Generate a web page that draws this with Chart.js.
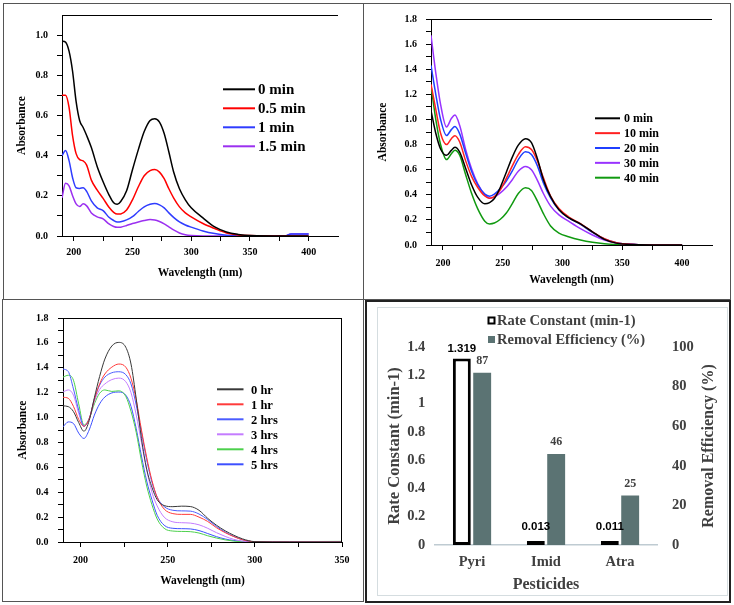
<!DOCTYPE html>
<html>
<head>
<meta charset="utf-8">
<script src="https://cdn.jsdelivr.net/npm/chart.js@4.4.1/dist/chart.umd.min.js"></script>
<style>
  html, body { margin: 0; padding: 0; background: #fff; }
  #page { position: relative; width: 734px; height: 605px; overflow: hidden; background: #fff; }
  .panel { position: absolute; }
  .box { position: absolute; box-sizing: border-box; pointer-events: none; }
</style>
</head>
<body>
<div id="page">
  <div class="panel" style="left:0;top:0;width:363px;height:297px"><canvas id="spA"></canvas></div>
  <div class="panel" style="left:365px;top:0;width:366px;height:297px"><canvas id="spB"></canvas></div>
  <div class="panel" style="left:0;top:300px;width:363px;height:301px"><canvas id="spC"></canvas></div>
  <div class="panel" style="left:377px;top:307px;width:351px;height:289px"><canvas id="rates"></canvas></div>

  <div class="box" style="left:3px;top:3px;width:361px;height:297px;border:1.5px solid #555"></div>
  <div class="box" style="left:363px;top:3px;width:368px;height:297px;border:1.5px solid #555"></div>
  <div class="box" style="left:2px;top:299px;width:362px;height:303px;border:1.5px solid #555"></div>
  <div class="box" style="left:365px;top:300px;width:366px;height:303px;border:2px solid #222"></div>
  <div class="box" style="left:377px;top:307px;width:351px;height:289px;border:1px solid #d5dde0"></div>
</div>

<script>
// ---- panel A : 0 - 1.5 min ----
const wlA = [190, 193, 196, 199, 202, 205, 208, 211, 215, 220, 225, 230, 234, 237, 240, 245, 250, 255, 260, 265,
             269, 273, 277, 281, 285, 290, 295, 300, 310, 320, 330, 340, 350, 380, 385, 400];
const a0min  = [0.97, 0.965, 0.92, 0.82, 0.67, 0.575, 0.54, 0.50, 0.44, 0.345, 0.27, 0.205, 0.165, 0.158, 0.172, 0.225, 0.33, 0.43, 0.52, 0.575,
                0.584, 0.567, 0.51, 0.418, 0.32, 0.235, 0.18, 0.14, 0.09, 0.045, 0.02, 0.008, 0.002, 0, 0, 0];
const a05min = [0.70, 0.70, 0.64, 0.50, 0.41, 0.38, 0.374, 0.353, 0.278, 0.228, 0.187, 0.143, 0.118, 0.109, 0.11, 0.129, 0.18, 0.245, 0.30, 0.325,
                0.331, 0.318, 0.285, 0.235, 0.19, 0.145, 0.115, 0.095, 0.062, 0.037, 0.015, 0.005, 0.002, 0, 0, 0];
const a1min  = [0.40, 0.425, 0.375, 0.29, 0.24, 0.237, 0.24, 0.222, 0.175, 0.14, 0.126, 0.093, 0.077, 0.07, 0.071, 0.08, 0.096, 0.122, 0.145, 0.158,
                0.162, 0.155, 0.14, 0.115, 0.093, 0.07, 0.055, 0.044, 0.025, 0.012, 0.004, 0.001, 0, 0, 0.01, 0.01];
const a15min = [0.19, 0.262, 0.25, 0.20, 0.16, 0.147, 0.16, 0.15, 0.115, 0.095, 0.085, 0.06, 0.047, 0.043, 0.044, 0.052, 0.062, 0.07, 0.077, 0.082,
                0.08, 0.072, 0.06, 0.045, 0.03, 0.015, 0.006, 0.002, 0, 0, 0, 0, 0, 0, 0.01, 0.01];
const namesA = ['0 min', '0.5 min', '1 min', '1.5 min'];

// ---- panel B : 0 - 40 min ----
const wlB = [190, 194, 198, 203, 207, 210, 214, 219, 224, 229, 235, 239, 243, 248, 253, 258, 263, 269, 274, 279,
             284, 290, 297, 305, 315, 325, 335, 345, 360, 375, 400];
const b0min  = [1.07, 0.89, 0.765, 0.714, 0.754, 0.778, 0.74, 0.61, 0.478, 0.381, 0.328, 0.338, 0.37, 0.46, 0.58, 0.70, 0.795, 0.847, 0.815, 0.687,
                0.52, 0.385, 0.28, 0.218, 0.168, 0.105, 0.045, 0.015, 0.003, 0, 0];
const b10min = [1.28, 1.08, 0.89, 0.80, 0.847, 0.87, 0.82, 0.67, 0.545, 0.46, 0.39, 0.373, 0.385, 0.44, 0.53, 0.63, 0.72, 0.783, 0.76, 0.67,
                0.535, 0.39, 0.29, 0.225, 0.17, 0.105, 0.05, 0.018, 0.004, 0, 0];
const b20min = [1.43, 1.20, 1.00, 0.872, 0.919, 0.943, 0.885, 0.73, 0.585, 0.48, 0.405, 0.389, 0.405, 0.45, 0.51, 0.59, 0.68, 0.742, 0.72, 0.63,
                0.495, 0.375, 0.28, 0.218, 0.165, 0.1, 0.048, 0.018, 0.004, 0, 0];
const b30min = [1.67, 1.37, 1.12, 0.94, 1.007, 1.035, 0.952, 0.76, 0.605, 0.49, 0.40, 0.373, 0.383, 0.415, 0.46, 0.52, 0.588, 0.626, 0.60, 0.515,
                0.41, 0.31, 0.24, 0.19, 0.13, 0.08, 0.04, 0.016, 0.004, 0, 0];
const b40min = [1.27, 1.00, 0.80, 0.68, 0.727, 0.755, 0.715, 0.56, 0.41, 0.29, 0.19, 0.168, 0.175, 0.205, 0.255, 0.33, 0.41, 0.456, 0.435, 0.35,
                0.25, 0.152, 0.095, 0.066, 0.04, 0.022, 0.01, 0.004, 0, 0, 0];
const namesB = ['0 min', '10 min', '20 min', '30 min', '40 min'];

// ---- panel C : 0 - 5 hrs ----
const wlC = [190, 193, 196, 199, 202, 205, 208, 211, 214, 218, 222, 226, 229, 232, 235, 238, 241, 244, 248, 253,
             258, 263, 268, 273, 278, 283, 288, 293, 300, 320, 350];
const c0hr = [1.094, 1.088, 1.048, 0.96, 0.89, 0.975, 1.16, 1.33, 1.47, 1.575, 1.604, 1.565, 1.43, 1.15, 0.83, 0.585, 0.44, 0.34, 0.293, 0.284,
              0.288, 0.285, 0.255, 0.19, 0.135, 0.09, 0.054, 0.025, 0.003, 0, 0];
const c1hr = [1.163, 1.155, 1.09, 0.985, 0.93, 0.99, 1.145, 1.27, 1.35, 1.405, 1.43, 1.405, 1.315, 1.14, 0.9, 0.68, 0.495, 0.36, 0.265, 0.228,
              0.222, 0.222, 0.2, 0.165, 0.115, 0.075, 0.043, 0.018, 0.002, 0, 0];
const c2hr = [1.39, 1.37, 1.23, 1.06, 0.93, 0.99, 1.15, 1.26, 1.325, 1.36, 1.368, 1.345, 1.27, 1.1, 0.88, 0.66, 0.48, 0.36, 0.285, 0.255,
              0.25, 0.248, 0.225, 0.18, 0.125, 0.08, 0.045, 0.018, 0.002, 0, 0];
const c3hr = [1.205, 1.222, 1.18, 1.035, 0.93, 0.99, 1.13, 1.225, 1.27, 1.305, 1.317, 1.288, 1.2, 1.02, 0.8, 0.58, 0.4, 0.29, 0.2, 0.162,
              0.155, 0.152, 0.138, 0.11, 0.075, 0.045, 0.021, 0.007, 0, 0, 0];
const c4hr = [1.325, 1.34, 1.3, 1.11, 0.94, 0.99, 1.11, 1.195, 1.222, 1.21, 1.215, 1.17, 1.05, 0.88, 0.65, 0.45, 0.3, 0.185, 0.11, 0.088,
              0.085, 0.083, 0.072, 0.05, 0.032, 0.017, 0.007, 0.002, 0, 0.003, 0.005];
const c5hr = [0.925, 0.965, 0.952, 0.875, 0.832, 0.9, 1.02, 1.11, 1.165, 1.198, 1.205, 1.18, 1.09, 0.91, 0.69, 0.49, 0.34, 0.215, 0.135, 0.11,
              0.107, 0.105, 0.092, 0.068, 0.043, 0.024, 0.012, 0.004, 0, 0, 0];
const namesC = ['0 hr', '1 hr', '2 hrs', '3 hrs', '4 hrs', '5 hrs'];

// ---- panel D : rate constants ----
const pesticides = ['Pyri', 'Imid', 'Atra'];
const rateConstant = [1.319, 0.013, 0.011];
const removalEff = [87, 46, 25];

// tick values
const ticksX400 = [200, 225, 250, 275, 300, 325, 350, 375, 400];
const ticksX350 = [200, 225, 250, 275, 300, 325, 350];
const ticksY11 = [0, 0.1, 0.2, 0.3, 0.4, 0.5, 0.6, 0.7, 0.8, 0.9, 1.0];
const ticksY18 = [0, 0.1, 0.2, 0.3, 0.4, 0.5, 0.6, 0.7, 0.8, 0.9, 1.0, 1.1, 1.2, 1.3, 1.4, 1.5, 1.6, 1.7, 1.8];
const rateTicks = [0, 0.2, 0.4, 0.6, 0.8, 1.0, 1.2, 1.4];
const effTicks = [0, 20, 40, 60, 80, 100];

const SERIF = "'Liberation Serif', 'DejaVu Serif', serif";

// top (and optional right) edge of the plot box
const plotFrame = {
  id: 'plotFrame',
  afterDraw(chart, args, o) {
    const { ctx, chartArea: a } = chart;
    ctx.save();
    ctx.strokeStyle = '#000';
    ctx.lineWidth = 1;
    ctx.beginPath();
    ctx.moveTo(a.left, a.top + 0.5);
    ctx.lineTo(a.right, a.top + 0.5);
    if (o.right) {
      ctx.moveTo(a.right - 0.5, a.top);
      ctx.lineTo(a.right - 0.5, a.bottom);
    }
    ctx.stroke();
    ctx.restore();
  }
};

// legend drawn inside the plot
const inlineKey = {
  id: 'inlineKey',
  afterDraw(chart, args, o) {
    const ctx = chart.ctx;
    ctx.save();
    ctx.font = 'bold ' + o.size + 'px ' + SERIF;
    ctx.textBaseline = 'middle';
    ctx.textAlign = 'left';
    ctx.fillStyle = '#000';
    chart.data.datasets.forEach((ds, k) => {
      const y = o.y + k * o.dy;
      ctx.strokeStyle = ds.borderColor;
      ctx.lineWidth = 2;
      ctx.beginPath();
      ctx.moveTo(o.x, y);
      ctx.lineTo(o.x + o.len, y);
      ctx.stroke();
      ctx.fillText(ds.label, o.x + o.len + o.gap, y + 1);
    });
    ctx.restore();
  }
};

function spectrum(id, c) {
  return new Chart(document.getElementById(id), {
    type: 'line',
    data: {
      datasets: c.series.map((s, k) => ({
        label: c.names[k],
        data: c.wl.map((x, i) => ({ x: x, y: s[i] })),
        borderColor: c.colors[k],
        borderWidth: c.lw,
        pointRadius: 0,
        cubicInterpolationMode: 'monotone',
        fill: false
      }))
    },
    options: {
      responsive: true,
      maintainAspectRatio: false,
      animation: false,
      layout: { padding: { top: c.top, right: c.right, left: 0, bottom: 0 } },
      plugins: {
        legend: { display: false },
        tooltip: { enabled: false },
        plotFrame: { right: c.frameRight },
        inlineKey: c.key
      },
      scales: {
        x: {
          type: 'linear',
          min: c.xMin,
          max: c.xMax,
          afterBuildTicks: s => { s.ticks = c.xTicks.map(v => ({ value: v })); },
          afterFit: s => { s.height = c.xH; },
          grid: { drawOnChartArea: false, tickLength: 5, color: '#000', tickColor: '#000' },
          border: { color: '#000', width: 1 },
          ticks: {
            autoSkip: false, maxRotation: 0, padding: c.xPad, color: '#000',
            font: { family: SERIF, weight: 'bold', size: 10 },
            callback: v => (v % 50 === 0 ? String(v) : '')
          },
          title: {
            display: true, text: 'Wavelength (nm)', color: '#000',
            font: { family: SERIF, weight: 'bold', size: 11.5 },
            padding: { top: 0, bottom: c.xTitlePad }
          }
        },
        y: {
          min: 0,
          max: c.yMax,
          afterBuildTicks: s => { s.ticks = c.yTicks.map(v => ({ value: v })); },
          afterFit: s => { s.width = c.yW; },
          grid: { drawOnChartArea: false, tickLength: 5, color: '#000', tickColor: '#000' },
          border: { color: '#000', width: 1 },
          ticks: {
            autoSkip: false, padding: c.yPad, color: '#000',
            font: { family: SERIF, weight: 'bold', size: 10 },
            callback: v => (Math.round(v * 10) % 2 === 0 ? v.toFixed(1) : '')
          },
          title: {
            display: true, text: 'Absorbance', color: '#000',
            font: { family: SERIF, weight: 'bold', size: 11.5 },
            padding: { top: c.yTitlePad, bottom: 0 }
          }
        }
      }
    },
    plugins: [plotFrame, inlineKey]
  });
}

spectrum('spA', {
  wl: wlA, series: [a0min, a05min, a1min, a15min], names: namesA,
  colors: ['#000000', '#ff0000', '#2f3cff', '#9b30f0'], lw: 1.5,
  top: 14, right: 25, yW: 62, xH: 61,
  xMin: 190, xMax: 425, xTicks: ticksX400, yMax: 1.1, yTicks: ticksY11,
  xPad: 5, yPad: 9, xTitlePad: 17, yTitlePad: 15.5, frameRight: false,
  key: { x: 223, y: 89.3, dy: 19, len: 32, gap: 3, size: 15 }
});

spectrum('spB', {
  wl: wlB, series: [b0min, b10min, b20min, b30min, b40min], names: namesB,
  colors: ['#000000', '#ff2020', '#1f3fff', '#9933ff', '#109a10'], lw: 1.5,
  top: 19, right: 19, yW: 66, xH: 52,
  xMin: 190, xMax: 425, xTicks: ticksX400, yMax: 1.8, yTicks: ticksY18,
  xPad: 7, yPad: 9, xTitlePad: 10, yTitlePad: 11, frameRight: false,
  key: { x: 230, y: 118.3, dy: 14.85, len: 25, gap: 4, size: 12 }
});

spectrum('spC', {
  wl: wlC, series: [c0hr, c1hr, c2hr, c3hr, c4hr, c5hr], names: namesC,
  colors: ['#383838', '#ff3b3b', '#4b5cff', '#c47cff', '#4cd04c', '#3d50ff'], lw: 1,
  top: 18, right: 21, yW: 63, xH: 59,
  xMin: 190, xMax: 350, xTicks: ticksX350, yMax: 1.8, yTicks: ticksY18,
  xPad: 7.5, yPad: 9.5, xTitlePad: 13, yTitlePad: 16, frameRight: true,
  key: { x: 217, y: 89.3, dy: 15, len: 26.5, gap: 7.5, size: 12.5 }
});

// value labels, right axis title and legend of the bar panel
const barExtras = {
  id: 'barExtras',
  afterDraw(chart) {
    const { ctx, chartArea: a } = chart;
    ctx.save();
    ctx.textAlign = 'center';
    ctx.textBaseline = 'middle';
    chart.data.datasets.forEach((ds, di) => {
      chart.getDatasetMeta(di).data.forEach((bar, i) => {
        ctx.font = di === 0 ? "bold 11.5px 'Liberation Sans', Arial, sans-serif" : 'bold 12px ' + SERIF;
        ctx.fillStyle = di === 0 ? '#000' : '#404040';
        const y = Math.min(bar.y - (di === 0 ? 10 : 12), a.bottom - 18);
        ctx.fillText(String(ds.data[i]), bar.x, y);
      });
    });

    ctx.save();
    ctx.translate(a.right + 51.7, (a.top + a.bottom) / 2);
    ctx.rotate(-Math.PI / 2);
    ctx.font = 'bold 16px ' + SERIF;
    ctx.fillStyle = '#404040';
    ctx.fillText('Removal Efficiency (%)', 0, 0);
    ctx.restore();

    ctx.textAlign = 'left';
    ctx.font = 'bold 14.5px ' + SERIF;
    const ds0 = chart.data.datasets[0], ds1 = chart.data.datasets[1];
    ctx.fillStyle = '#fff';
    ctx.fillRect(111.5, 10.5, 6, 6);
    ctx.strokeStyle = '#000';
    ctx.lineWidth = 2;
    ctx.strokeRect(111.5, 10.5, 6, 6);
    ctx.fillStyle = '#404040';
    ctx.fillText(ds0.label, 120, 14.5);
    ctx.fillStyle = ds1.backgroundColor;
    ctx.fillRect(111, 29, 7, 7);
    ctx.fillStyle = '#404040';
    ctx.fillText(ds1.label, 120, 33);
    ctx.restore();
  }
};

new Chart(document.getElementById('rates'), {
  type: 'bar',
  data: {
    labels: pesticides,
    datasets: [
      {
        label: 'Rate Constant (min-1)', data: rateConstant, yAxisID: 'y',
        backgroundColor: '#ffffff', borderColor: '#000000', borderWidth: 3,
        borderSkipped: false, minBarLength: 4
      },
      {
        label: 'Removal Efficiency (%)', data: removalEff, yAxisID: 'y1',
        backgroundColor: '#5b7373', borderWidth: 0
      }
    ]
  },
  options: {
    responsive: true,
    maintainAspectRatio: false,
    animation: false,
    datasets: { bar: { categoryPercentage: 0.55, barPercentage: 0.88 } },
    layout: { padding: { top: 40, right: 0, left: 0, bottom: 0 } },
    plugins: { legend: { display: false }, tooltip: { enabled: false } },
    scales: {
      x: {
        afterFit: s => { s.height = 51; },
        grid: { display: false, drawTicks: false },
        border: { display: true, color: '#bfcbd2', width: 1.5 },
        ticks: { padding: 9, color: '#404040', font: { family: SERIF, weight: 'bold', size: 14.5 } },
        title: {
          display: true, text: 'Pesticides', color: '#404040',
          font: { family: SERIF, weight: 'bold', size: 16 },
          padding: { top: 0, bottom: 1.5 }
        }
      },
      y: {
        position: 'left',
        min: 0, max: 1.4,
        afterBuildTicks: s => { s.ticks = rateTicks.map(v => ({ value: v })); },
        afterFit: s => { s.width = 58; },
        grid: { display: false, drawTicks: false },
        border: { display: false },
        ticks: {
          padding: 9.7, color: '#404040',
          font: { family: SERIF, weight: 'bold', size: 14.5 },
          callback: v => String(+v.toFixed(1))
        },
        title: {
          display: true, text: 'Rate Constant (min-1)', color: '#404040',
          font: { family: SERIF, weight: 'bold', size: 16.5 },
          padding: { top: 7.4, bottom: 0 }
        }
      },
      y1: {
        position: 'right',
        min: 0, max: 100,
        afterBuildTicks: s => { s.ticks = effTicks.map(v => ({ value: v })); },
        afterFit: s => { s.width = 71; },
        grid: { display: false, drawTicks: false },
        border: { display: false },
        ticks: { padding: 15, color: '#404040', font: { family: SERIF, weight: 'bold', size: 14.5 } }
      }
    }
  },
  plugins: [barExtras]
});
</script>
</body>
</html>
